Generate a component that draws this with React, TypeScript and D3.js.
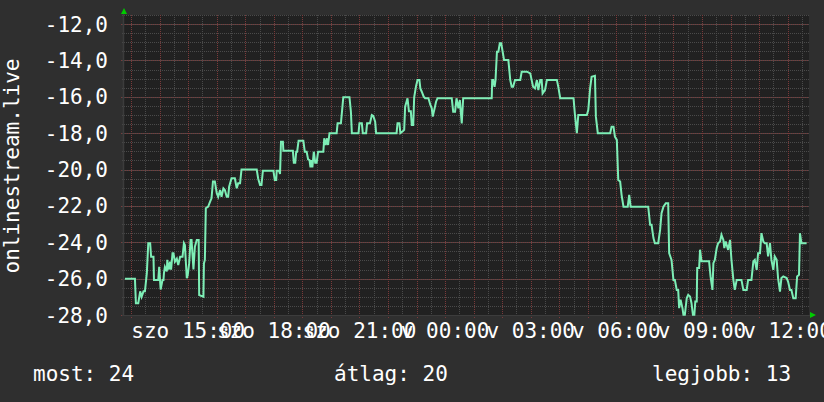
import React from "react";
import * as d3 from "d3";

// ---- data ----
const START_UTC = Date.UTC(2024, 2, 2, 12, 45); // szombat 12:45
const SPAN_MIN = 1440;

const sampleMinutes = [
  2, 23, 25, 30, 34, 37, 41, 44, 48, 51, 55, 57, 62, 63, 72, 74, 77, 81, 83, 84,
  86, 90, 91, 94, 97, 99, 102, 104, 107, 111, 114, 118, 123, 126, 128, 132, 134, 137, 140, 142,
  146, 149, 153, 157, 158, 167, 168, 170, 172, 177, 181, 184, 187, 191, 195, 198, 202, 205, 209, 212,
  216, 219, 221, 226, 233, 237, 240, 244, 247, 279, 282, 286, 289, 292, 314, 317, 320, 321, 326, 328,
  330, 334, 335, 355, 357, 360, 362, 364, 367, 377, 380, 384, 387, 390, 392, 394, 396, 399, 402, 405,
  408, 419, 421, 424, 427, 429, 432, 447, 449, 456, 461, 474, 477, 479, 493, 495, 500, 502, 509, 511,
  517, 521, 524, 528, 530, 573, 575, 579, 581, 586, 589, 591, 596, 599, 603, 605, 608, 610, 614, 617,
  621, 623, 626, 630, 633, 640, 644, 647, 649, 653, 656, 659, 689, 692, 696, 699, 703, 706, 710, 713,
  773, 774, 776, 779, 781, 784, 787, 790, 793, 796, 799, 808, 812, 815, 818, 822, 833, 836, 847, 854,
  857, 860, 864, 868, 871, 875, 878, 880, 885, 889, 910, 913, 917, 945, 948, 952, 955, 973, 976, 980,
  983, 990, 992, 996, 1022, 1025, 1029, 1032, 1036, 1039, 1043, 1046, 1050, 1059, 1062, 1065, 1102, 1106, 1109, 1113,
  1116, 1123, 1127, 1130, 1134, 1139, 1144, 1146, 1151, 1155, 1158, 1162, 1165, 1167, 1170, 1174, 1176, 1179, 1183, 1186,
  1190, 1193, 1196, 1199, 1201, 1204, 1205, 1209, 1211, 1214, 1230, 1233, 1237, 1239, 1242, 1246, 1249, 1253, 1256, 1260,
  1262, 1265, 1270, 1274, 1277, 1281, 1284, 1288, 1298, 1302, 1309, 1312, 1319, 1323, 1326, 1330, 1333, 1337, 1340, 1344,
  1347, 1351, 1354, 1358, 1361, 1365, 1368, 1372, 1375, 1379, 1382, 1386, 1393, 1396, 1400, 1403, 1407, 1412, 1415, 1419,
  1421, 1424, 1435,
];

const sampleValues = [
  -26.0, -26.0, -27.35, -27.35, -26.7, -27.0, -26.7, -26.7, -25.7, -24.05, -24.05, -24.8, -24.8, -26.07, -26.07, -25.35, -26.6, -26.07, -26.07, -25.7,
  -25.35, -25.6, -24.97, -25.5, -25.07, -25.5, -24.6, -24.6, -25.07, -24.9, -25.25, -24.8, -24.8, -24.05, -24.15, -25.98, -25.8, -25.15, -23.87, -23.87,
  -25.5, -24.24, -23.87, -23.87, -26.9, -27.0, -25.16, -24.97, -22.13, -22.04, -21.77, -21.58, -20.66, -20.66, -21.3, -21.5, -21.12, -21.5, -21.03, -21.12,
  -21.5, -21.5, -20.94, -20.48, -20.48, -21.03, -20.76, -20.76, -20.0, -20.0, -20.49, -20.85, -20.85, -20.06, -20.06, -20.58, -20.58, -20.06, -20.06, -20.25,
  -18.47, -18.47, -18.96, -18.96, -19.62, -19.62, -19.02, -19.02, -18.41, -18.41, -19.02, -19.02, -19.44, -19.48, -19.88, -19.48, -19.88, -19.02, -19.62, -19.62,
  -19.02, -19.02, -18.28, -18.65, -18.28, -18.65, -18.0, -18.0, -17.46, -17.46, -16.03, -16.03, -16.82, -18.0, -18.0, -17.46, -17.46, -18.0, -18.0, -17.46,
  -17.46, -17.0, -17.05, -17.37, -18.0, -18.0, -17.46, -17.46, -18.0, -17.9, -17.82, -16.54, -16.08, -16.8, -16.8, -17.55, -17.55, -16.03, -15.4, -15.08,
  -15.08, -15.54, -15.72, -15.99, -16.08, -16.08, -16.45, -16.63, -17.09, -16.63, -16.27, -16.08, -16.08, -16.82, -16.82, -16.08, -16.63, -16.18, -17.46, -16.08,
  -16.08, -15.08, -15.08, -15.45, -15.08, -13.52, -13.52, -13.06, -13.06, -13.52, -13.98, -13.98, -15.08, -15.45, -15.45, -15.08, -15.08, -14.62, -14.62, -14.71,
  -15.08, -15.45, -15.54, -15.08, -15.63, -15.08, -15.08, -15.81, -15.63, -15.08, -15.08, -15.45, -16.08, -16.08, -17.0, -18.0, -17.0, -17.0, -16.73, -15.5,
  -14.9, -14.85, -17.09, -18.0, -18.0, -17.64, -17.64, -18.19, -18.37, -20.57, -20.66, -21.39, -22.04, -22.04, -21.39, -22.04, -22.04, -23.04, -23.04, -23.77,
  -24.05, -24.05, -23.32, -22.4, -22.04, -21.85, -21.85, -24.6, -24.97, -26.07, -26.07, -26.62, -26.62, -27.62, -27.16, -27.62, -27.99, -27.99, -27.07, -26.89,
  -26.98, -27.35, -27.99, -27.99, -27.26, -27.26, -25.42, -25.42, -24.41, -25.05, -25.05, -25.88, -26.62, -25.15, -24.97, -24.32, -24.05, -23.95, -23.59, -23.87,
  -24.32, -23.96, -24.42, -23.87, -24.97, -26.07, -26.62, -26.07, -26.07, -26.62, -26.62, -26.07, -26.07, -25.05, -24.97, -25.52, -24.6, -24.6, -23.5, -23.96,
  -24.05, -24.05, -24.78, -24.05, -24.97, -25.52, -24.78, -24.97, -25.97, -26.71, -25.97, -25.88, -25.97, -26.16, -26.62, -26.62, -27.08, -27.08, -25.88, -25.79,
  -23.5, -24.05, -24.05,
];

const yTicks = [-28, -26, -24, -22, -20, -18, -16, -14, -12];
const yDomain = [-28, -11.5];
const dayAbbrevHu = ["v", "h", "k", "sze", "cs", "p", "szo"];
const yTitle = "onlinestream.live";
const legendLabels = ["most", "átlag", "legjobb"];
const legendValues = [24, 20, 13];

// ---- layout ----
const W = 824;
const H = 402;
const PL = 124;
const PR = 809;
const PT = 15;
const PB = 315;
const FONT = "'DejaVu Sans Mono', monospace";

export default function App() {
  const x = d3
    .scaleUtc()
    .domain([new Date(START_UTC), new Date(START_UTC + SPAN_MIN * 60000)])
    .range([PL, PR]);
  const y = d3.scaleLinear().domain(yDomain).range([PB, PT]);

  const data = sampleMinutes.map((m, i) => ({
    t: new Date(START_UTC + m * 60000),
    v: sampleValues[i],
  }));

  const line = d3
    .line<{ t: Date; v: number }>()
    .x((d) => x(d.t))
    .y((d) => y(d.v));

  const minorX = x.ticks(d3.utcMinute.every(30)!);
  const majorX = x.ticks(d3.utcHour.every(1)!);
  const labelX = x.ticks(d3.utcHour.every(3)!);
  const minorY = d3.range(yDomain[0], yDomain[1] + 0.001, 0.5);
  const fmtHM = d3.utcFormat("%H:%M");
  const fmtY = (v: number) => v.toFixed(1).replace(".", ",");

  const legendX = [33, 334, 652];

  return (
    <svg
      width={W}
      height={H}
      style={{ position: "absolute", left: 0, top: 0, display: "block" }}
    >
      <rect x={0} y={0} width={W} height={H} fill="#2f2f2f" />
      <rect x={PL} y={PT} width={PR - PL} height={PB - PT} fill="#212121" />

      {/* minor grid */}
      {minorX.map((d, i) => (
        <line
          key={"mx" + i}
          x1={Math.round(x(d)) + 0.5}
          x2={Math.round(x(d)) + 0.5}
          y1={PT}
          y2={PB + 2}
          stroke="#4a4a4a"
          strokeDasharray="1,1"
        />
      ))}
      {minorY.map((v, i) => (
        <line
          key={"my" + i}
          x1={PL - 2}
          x2={PR}
          y1={Math.round(y(v)) + 0.5}
          y2={Math.round(y(v)) + 0.5}
          stroke="#4a4a4a"
          strokeDasharray="1,1"
        />
      ))}
      {/* major grid */}
      {majorX.map((d, i) => (
        <line
          key={"Mx" + i}
          x1={Math.round(x(d)) + 0.5}
          x2={Math.round(x(d)) + 0.5}
          y1={PT}
          y2={PB + 3}
          stroke="#7a3a3a"
          strokeDasharray="1,1"
        />
      ))}
      {yTicks.map((v, i) => (
        <line
          key={"My" + i}
          x1={PL - 3}
          x2={PR}
          y1={Math.round(y(v)) + 0.5}
          y2={Math.round(y(v)) + 0.5}
          stroke="#7a3a3a"
          strokeDasharray="1,1"
        />
      ))}

      {/* axes */}
      <line x1={PL - 0.5} x2={PL - 0.5} y1={PT - 2} y2={PB + 1} stroke="#3c3c3c" strokeWidth={1.5} />
      <line x1={PL - 2} x2={PR + 2} y1={PB + 0.5} y2={PB + 0.5} stroke="#3c3c3c" />
      <path
        d={`M${PL - 3},${PT - 1} L${PL + 3},${PT - 1} L${PL},${PT - 7} Z`}
        fill="#00cc00"
      />
      <path
        d={`M${PR + 1},${PB - 3} L${PR + 1},${PB + 3} L${PR + 7},${PB} Z`}
        fill="#00cc00"
      />

      {/* data line */}
      <path d={line(data) || ""} fill="none" stroke="#7deeb6" strokeWidth={2} strokeLinejoin="miter" />

      {/* y tick labels */}
      {yTicks.map((v, i) => (
        <text
          key={"yl" + i}
          x={108}
          y={y(v)}
          dy="0.36em"
          textAnchor="end"
          fill="#ffffff"
          fontFamily={FONT}
          fontSize={21}
        >
          {fmtY(v)}
        </text>
      ))}

      {/* x tick labels */}
      {labelX.map((d, i) => (
        <text
          key={"xl" + i}
          x={x(d)}
          y={338}
          textAnchor="middle"
          fill="#ffffff"
          fontFamily={FONT}
          fontSize={21}
        >
          {dayAbbrevHu[d.getUTCDay()] + " " + fmtHM(d)}
        </text>
      ))}

      {/* y title */}
      <text
        transform={`translate(18.5, 166) rotate(-90)`}
        textAnchor="middle"
        fill="#ffffff"
        fontFamily={FONT}
        fontSize={21}
      >
        {yTitle}
      </text>

      {/* legend */}
      {legendLabels.map((l, i) => (
        <text
          key={"lg" + i}
          x={legendX[i]}
          y={381}
          fill="#ffffff"
          fontFamily={FONT}
          fontSize={21}
        >
          {`${l}: ${legendValues[i]}`}
        </text>
      ))}
    </svg>
  );
}
